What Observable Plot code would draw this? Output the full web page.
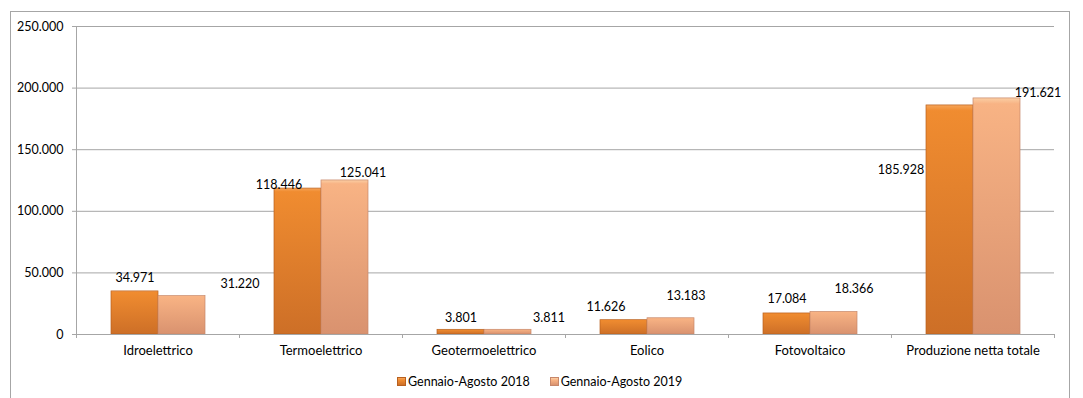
<!DOCTYPE html>
<html>
<head>
<meta charset="utf-8">
<script src="https://cdn.jsdelivr.net/npm/d3@7"></script>
<script src="https://cdn.jsdelivr.net/npm/@observablehq/plot@0.6"></script>
<style>
  html, body { margin: 0; padding: 0; background: #fff; }
  #wrap { position: relative; width: 1083px; height: 398px; overflow: hidden; font-family: Lato, "Open Sans", sans-serif; }
  #frame { position: absolute; left: 10px; top: 11px; width: 1060px; height: 420px; border: 1px solid #a6a6a6; box-sizing: border-box; }
  #chart { position: absolute; left: 0; top: 0; }
  #legend { position: absolute; top: 374px; left: 397px; font-size: 12.5px; color: #000; display: flex; gap: 20px; white-space: nowrap; }
  .item { display: flex; align-items: center; }
  .sw { width: 9px; height: 9px; margin-right: 2px; box-sizing: border-box; }
</style>
</head>
<body>
<div id="wrap">
  <div id="frame"></div>
  <div id="chart"></div>
  <div id="legend"></div>
</div>
<script>
const categories = ["Idroelettrico", "Termoelettrico", "Geotermoelettrico", "Eolico", "Fotovoltaico", "Produzione netta totale"];
const series = ["Gennaio-Agosto 2018", "Gennaio-Agosto 2019"];
const values2018 = [34971, 118446, 3801, 11626, 17084, 185928];
const values2019 = [31220, 125041, 3811, 13183, 18366, 191621];
const yTicks = [0, 50000, 100000, 150000, 200000, 250000];

// label nudges [dx, dy] (layout only)
const labelNudge2018 = [[0, -13], [-19, -4], [0, -12], [-18, -13], [0, -14], [-49, 65]];
const labelNudge2019 = [[58, -12], [18, -7], [41, -12], [15, -22], [20, -23], [41, -5]];

const colors = {
  [series[0]]: { id: "g2018", top: "#f6a55a", main: "#f08c30", bottom: "#cd6f27", stroke: "#b8601f" },
  [series[1]]: { id: "g2019", top: "#fbcfa5", main: "#f8b384", bottom: "#d9926f", stroke: "#c7876a" }
};

const it = d3.formatLocale({ decimal: ",", thousands: ".", grouping: [3], currency: ["", "€"] });
const fmt = it.format(",d");

const data = categories.flatMap((c, i) => [
  { category: c, series: series[0], value: values2018[i], nudge: labelNudge2018[i] },
  { category: c, series: series[1], value: values2019[i], nudge: labelNudge2019[i] }
]);

const labelMarks = data.map(d => Plot.text([d], {
  fx: "category", x: "series", y: "value",
  text: d => fmt(d.value),
  dx: d.nudge[0], dy: d.nudge[1],
  fontSize: 12.5, fill: "#000"
}));

const plot = Plot.plot({
  width: 1083,
  height: 360,
  marginLeft: 76,
  marginRight: 29,
  marginTop: 26,
  marginBottom: 26,
  style: { fontFamily: "Lato, 'Open Sans', sans-serif", fontSize: "12px", color: "#000", background: "transparent", overflow: "visible" },
  fx: { domain: categories, padding: 0, label: null },
  x: { domain: series, axis: null, paddingInner: 0, paddingOuter: 0.7 },
  y: { domain: [0, 250000], label: null },
  marks: [
    Plot.gridY(yTicks, { stroke: "#a6a6a6", strokeOpacity: 1 }),
    Plot.axisY(yTicks, { tickFormat: fmt, tickSize: 4, tickPadding: 9, label: null, stroke: "#a6a6a6", fill: "#000", fontSize: 12.5 }),
    Plot.axisFx({ anchor: "bottom", tickSize: 0, tickPadding: 11, label: null, fill: "#000", fontSize: 13 }),
    Plot.barY(data.filter(d => d.series === series[0]), { fx: "category", x: "series", y: "value", fill: "url(#g2018)", stroke: colors[series[0]].stroke, strokeWidth: 0.7 }),
    Plot.barY(data.filter(d => d.series === series[1]), { fx: "category", x: "series", y: "value", fill: "url(#g2019)", stroke: colors[series[1]].stroke, strokeWidth: 0.7 }),
    Plot.ruleY([0], { stroke: "#a6a6a6" }),
    ...labelMarks
  ]
});

// gradients
const svg = d3.select(plot);
const defs = svg.insert("defs", ":first-child");
for (const s of series) {
  const c = colors[s];
  const g = defs.append("linearGradient").attr("id", c.id).attr("x1", 0).attr("y1", 0).attr("x2", 0).attr("y2", 1);
  g.append("stop").attr("offset", "0%").attr("stop-color", c.top);
  g.append("stop").attr("offset", "2.5%").attr("stop-color", c.main);
  g.append("stop").attr("offset", "100%").attr("stop-color", c.bottom);
}

// y axis line and category boundary ticks
const fx = plot.scale("fx");
const y = plot.scale("y");
const y0 = y.apply(0), yTop = y.apply(250000);
const bw = fx.bandwidth;
const xs = categories.map(c => fx.apply(c));
xs.push(xs[xs.length - 1] + bw);
const ax = svg.append("g").attr("stroke", "#a6a6a6").attr("fill", "none");
ax.append("line").attr("x1", xs[0] + 0.5).attr("x2", xs[0] + 0.5).attr("y1", yTop).attr("y2", y0);
for (const x of xs) {
  ax.append("line").attr("x1", x + 0.5).attr("x2", x + 0.5).attr("y1", y0).attr("y2", y0 + 4);
}

document.getElementById("chart").appendChild(plot);

// legend
const legend = d3.select("#legend");
for (const s of series) {
  const c = colors[s];
  const item = legend.append("div").attr("class", "item");
  item.append("div").attr("class", "sw")
    .style("background", `linear-gradient(${c.top}, ${c.main} 30%, ${c.bottom})`)
    .style("border", `1px solid ${c.stroke}`);
  item.append("span").text(s);
}
</script>
</body>
</html>
